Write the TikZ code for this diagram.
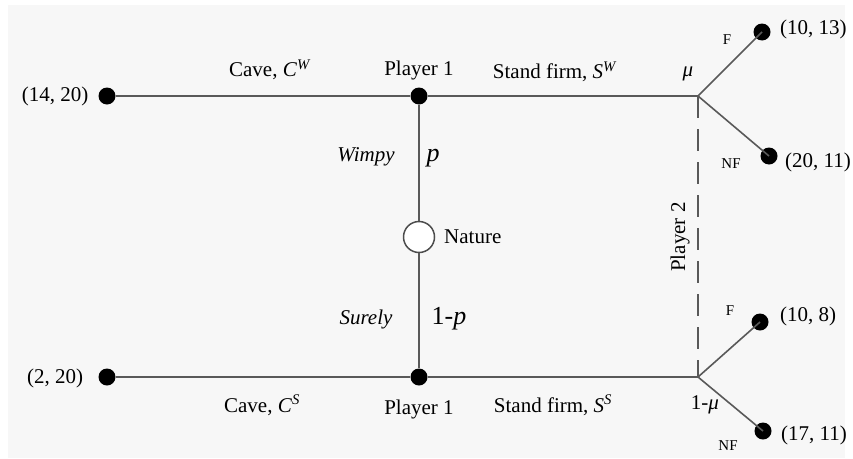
\documentclass[tikz,border=0pt]{standalone}
\usepackage{fontspec}
\setmainfont{Liberation Serif}
\usetikzlibrary{positioning}

\begin{document}
\begin{tikzpicture}[x=1pt, y=-1pt,
    dot/.style={circle, fill=black, inner sep=0pt, minimum size=17pt},
    chance/.style={circle, draw=black!70, fill=white, line width=1.5pt, inner sep=0pt, minimum size=31pt},
    edge/.style={draw=black!65, line width=1.6pt},
    lbl/.style={font=\fontsize{21}{24}\selectfont, inner sep=1pt},
    sml/.style={font=\fontsize{15}{17}\selectfont, inner sep=1pt},
    big/.style={font=\fontsize{26}{28}\selectfont, inner sep=1pt}
]
\fill[white] (0,0) rectangle (853,458);
\fill[black!3] (8,5) rectangle (845,458);
\useasboundingbox (0,0) rectangle (853,458);

% decision nodes
\node[dot] (pw) at (419,96) {};
\node[dot] (ps) at (419,377) {};
\node[chance] (nat) at (419,237) {};
\coordinate (bw) at (698,96);
\coordinate (bs) at (698,377);

% end points
\node[dot] (cw) at (107,96) {};
\node[dot] (cs) at (107,377) {};
\node[dot] (fw) at (762,32) {};
\node[dot] (nw) at (769,156) {};
\node[dot] (fs) at (760,322) {};
\node[dot] (ns) at (763,431) {};

\draw[edge] (cw) -- (pw) -- (bw);
\draw[edge] (cs) -- (ps) -- (bs);
\draw[edge] (pw) -- (nat) -- (ps);
\draw[edge] (bw) -- (fw.center);
\draw[edge] (bw) -- (nw.center);
\draw[edge] (bs) -- (fs.center);
\draw[edge] (bs) -- (ns.center);
\draw[edge, dash pattern=on 22pt off 11pt] (bw) -- (bs);

% labels
\node[lbl] at (55,96) {(14, 20)};
\node[lbl] at (55,378) {(2, 20)};
\node[lbl] at (270,70) {Cave, \textit{C}\textsuperscript{\textit{W}}};
\node[lbl] at (262,405) {Cave, \textit{C}\textsuperscript{\textit{S}}};
\node[lbl] at (419,70) {Player 1};
\node[lbl] at (419,409) {Player 1};
\node[lbl] at (555,72) {Stand firm, \textit{S}\textsuperscript{\textit{W}}};
\node[lbl] at (553,405) {Stand firm, \textit{S}\textsuperscript{\textit{S}}};
\node[lbl] at (688,74) {\textit{μ}};
\node[lbl] at (705,405) {1-\textit{μ}};
\node[lbl, anchor=west] at (443,237) {Nature};
\node[lbl, font=\fontsize{21}{24}\selectfont\itshape] at (366,157) {Wimpy};
\node[lbl, font=\fontsize{21}{24}\selectfont\itshape] at (366,319) {Surely};
\node[big] at (433,158) {\textit{p}};
\node[big] at (449,319) {1-\textit{p}};
\node[lbl, rotate=90] at (680,237) {Player 2};
\node[sml] at (727,40) {F};
\node[sml] at (731,164) {NF};
\node[sml] at (730,311) {F};
\node[sml] at (728,446) {NF};
\node[lbl, anchor=west] at (779,29) {(10, 13)};
\node[lbl, anchor=west] at (784,162) {(20, 11)};
\node[lbl, anchor=west] at (779,316) {(10, 8)};
\node[lbl, anchor=west] at (780,435) {(17, 11)};
\end{tikzpicture}
\end{document}
